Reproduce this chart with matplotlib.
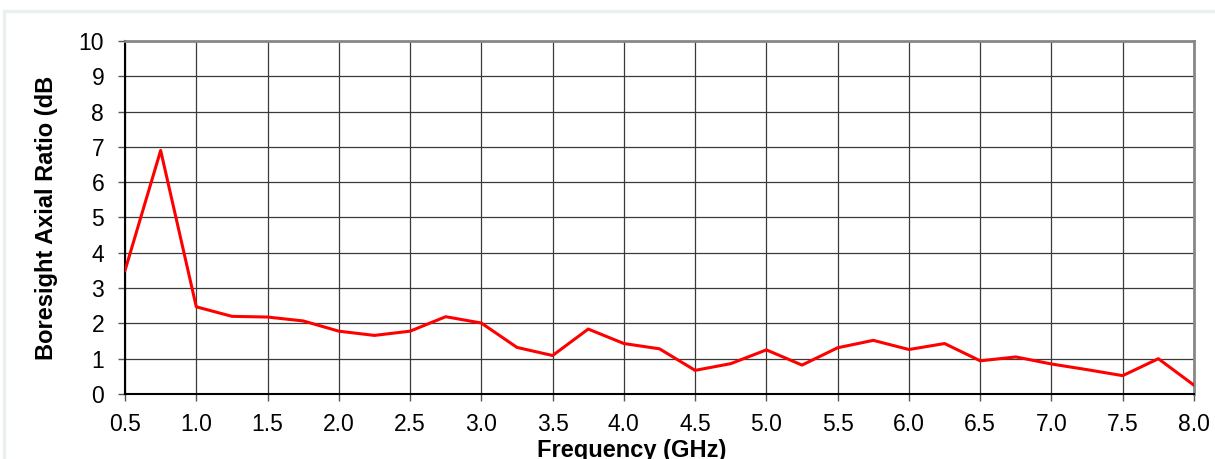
import matplotlib
matplotlib.use("Agg")
import matplotlib.pyplot as plt
from matplotlib.patches import Rectangle

# Boresight axial ratio vs frequency
freq_ghz = [0.5, 0.75, 1.0, 1.25, 1.5, 1.75, 2.0, 2.25, 2.5, 2.75, 3.0, 3.25, 3.5,
            3.75, 4.0, 4.25, 4.5, 4.75, 5.0, 5.25, 5.5, 5.75, 6.0, 6.25, 6.5,
            6.75, 7.0, 7.25, 7.5, 7.75, 8.0]
axial_ratio_db = [3.5, 6.9, 2.47, 2.2, 2.18, 2.07, 1.78, 1.66, 1.78, 2.19, 2.01,
                  1.32, 1.09, 1.84, 1.43, 1.28, 0.67, 0.86, 1.25, 0.82, 1.31,
                  1.52, 1.26, 1.43, 0.94, 1.05, 0.85, 0.69, 0.52, 1.0, 0.25]

x_ticks = [0.5 + 0.5 * i for i in range(16)]
x_tick_labels = ["%.1f" % t for t in x_ticks]
y_ticks = list(range(11))

plt.rcParams["font.family"] = ["Liberation Sans", "DejaVu Sans"]

fig = plt.figure(figsize=(12.15, 4.59), dpi=100)
ax = fig.add_axes([0.1029, 0.1416, 0.8798, 0.7691])

# light frame around the chart
fig.patches.append(Rectangle((0.003, -0.05), 1.05, 1.026, transform=fig.transFigure,
                             fill=False, edgecolor="#eaf0ea", linewidth=2.5))

ax.plot(freq_ghz, axial_ratio_db, color="#ff0000", linewidth=2.2, zorder=3)

ax.set_xlim(0.5, 8.0)
ax.set_ylim(0, 10)
ax.set_xticks(x_ticks)
ax.set_xticklabels(x_tick_labels)
ax.set_yticks(y_ticks)
ax.grid(True, color="#3a3a3a", linewidth=0.9)
ax.set_axisbelow(True)

ax.tick_params(axis="both", labelsize=16.5, color="#555555", width=1)
ax.tick_params(axis="x", length=5, pad=9)
ax.tick_params(axis="y", length=5, pad=10)

for side in ["top", "right"]:
    ax.spines[side].set_color("#888888")
    ax.spines[side].set_linewidth(2)
for side in ["left", "bottom"]:
    ax.spines[side].set_color("#000000")
    ax.spines[side].set_linewidth(1.5)

# x label sits a little left of the axes centre in the original
ax.set_xlabel("Frequency (GHz)", fontsize=17, fontweight="bold", labelpad=2, x=0.474)
ax.set_ylabel("Boresight Axial Ratio (dB", fontsize=17, fontweight="bold", labelpad=15)

fig.savefig("out.png", dpi=100)
